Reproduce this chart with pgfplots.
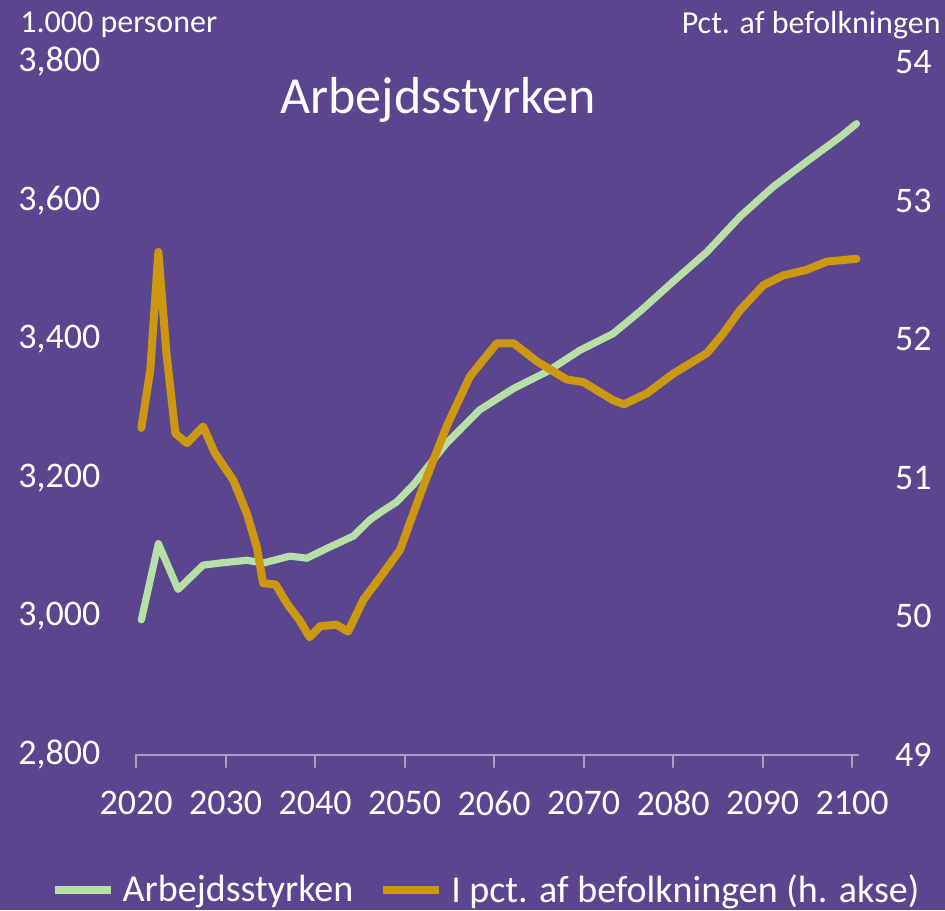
\documentclass[border=0pt]{standalone}
\usepackage{pgfplots}
\pgfplotsset{compat=1.18}
\usepackage{fontspec}
\setmainfont{Carlito}
\definecolor{bg}{RGB}{91,69,142}
\definecolor{grn}{RGB}{182,224,165}
\definecolor{gld}{RGB}{204,152,16}
\definecolor{axgray}{RGB}{168,162,188}
\begin{document}
\begin{tikzpicture}[x=0.5pt,y=0.5pt]
\fill[bg] (0,0) rectangle (945,910);
\useasboundingbox (0,0) rectangle (945,910);
\begin{axis}[
  at={(68pt,77.5pt)}, anchor=south west,
  scale only axis, width=361pt, height=346.5pt,
  xmin=2020, xmax=2100.67, ymin=2800, ymax=3800,
  axis x line*=bottom, axis y line*=left,
  x axis line style={-, draw=axgray, line width=1.2pt},
  y axis line style={draw=none},
  xtick={2020,2030,...,2100},
  ytick={2800,3000,...,3800},
  xtick align=outside, ytick align=inside,
  major tick length=6pt,
  xtick style={draw=axgray, line width=1pt},
  ytick style={draw=none},
  /pgf/number format/assume math mode=true,
  x tick label style={/pgf/number format/1000 sep={}, font=\fontsize{18}{20}\selectfont, text=white, anchor=center, inner sep=0pt, yshift=-18pt},
  y tick label style={/pgf/number format/1000 sep={,}, font=\fontsize{18}{20}\selectfont, text=white, anchor=west, inner sep=0pt, xshift=-59pt},
  scaled y ticks=false,
  clip=false,
  line join=round, line cap=round,
]
\addplot[grn, line width=3.6pt] coordinates {
(2020.6,2995) (2022.5,3105) (2024.7,3039) (2027.5,3074) (2029.4,3077)
(2032.4,3081) (2034.2,3077) (2037.2,3087) (2039.1,3084) (2041.3,3098)
(2044.3,3116) (2046.1,3139) (2047.3,3150) (2049.1,3165) (2051.0,3190)
(2054.7,3250) (2058.4,3298) (2062.2,3329) (2065.9,3353) (2069.6,3384)
(2073.3,3408) (2076.3,3440) (2080.0,3483) (2083.8,3526) (2087.5,3577)
(2091.2,3620) (2094.9,3656) (2098.7,3692) (2100.5,3711)
};
\end{axis}
\begin{axis}[
  at={(68pt,77.5pt)}, anchor=south west,
  scale only axis, width=361pt, height=346.5pt,
  xmin=2020, xmax=2100.67, ymin=49, ymax=54,
  axis x line=none, axis y line*=right,
  y axis line style={draw=none},
  ytick={49,50,...,54},
  ytick align=inside,
  ytick style={draw=none},
  /pgf/number format/assume math mode=true,
  y tick label style={font=\fontsize{18}{20}\selectfont, text=white, anchor=east, inner sep=0pt, xshift=37pt},
  clip=false,
  line join=round, line cap=round,
  legend columns=2,
  legend style={at={(-0.127,-0.195)}, anchor=west, draw=none, fill=none, text=white,
    font=\fontsize{19}{22}\selectfont, /tikz/every even column/.append style={column sep=11pt},
    /tikz/every odd column/.append style={column sep=2pt}},
  legend image code/.code={\draw[#1, line cap=butt] (0pt,0pt) -- (28pt,0pt);},
]
\addlegendimage{grn, line width=4pt}
\addlegendentry{Arbejdsstyrken}
\addplot[gld, line width=4pt] coordinates {
(2020.6,51.36) (2021.6,51.78) (2022.5,52.63) (2023.4,51.90) (2024.4,51.32)
(2025.7,51.25) (2027.5,51.37) (2028.8,51.18) (2030.9,50.98) (2032.4,50.74)
(2033.5,50.50) (2034.2,50.24) (2035.6,50.23) (2036.9,50.09) (2038.3,49.97)
(2039.4,49.85) (2040.6,49.93) (2042.4,49.94) (2043.7,49.89) (2045.4,50.12)
(2047.6,50.31) (2049.5,50.48) (2052.1,50.94) (2054.7,51.37) (2057.3,51.73)
(2060.3,51.97) (2062.2,51.97) (2064.8,51.84) (2068.1,51.71) (2070.0,51.69)
(2073.3,51.56) (2074.5,51.53) (2077.1,51.61) (2080.0,51.75) (2083.8,51.90)
(2085.6,52.04) (2087.5,52.21) (2090.1,52.39) (2092.3,52.46) (2094.9,52.50)
(2097.2,52.56) (2100.5,52.58)
};
\addlegendentry{I pct. af befolkningen (h. akse)}
\end{axis}
\node[text=white, font=\fontsize{26}{30}\selectfont] at (438,810) {Arbejdsstyrken};
\node[text=white, font=\fontsize{16}{18}\selectfont, anchor=west, inner sep=0pt] at (20,885) {1.000 personer};
\node[text=white, font=\fontsize{16}{18}\selectfont, anchor=east, inner sep=0pt] at (941,885) {Pct. af befolkningen};
\end{tikzpicture}
\end{document}
